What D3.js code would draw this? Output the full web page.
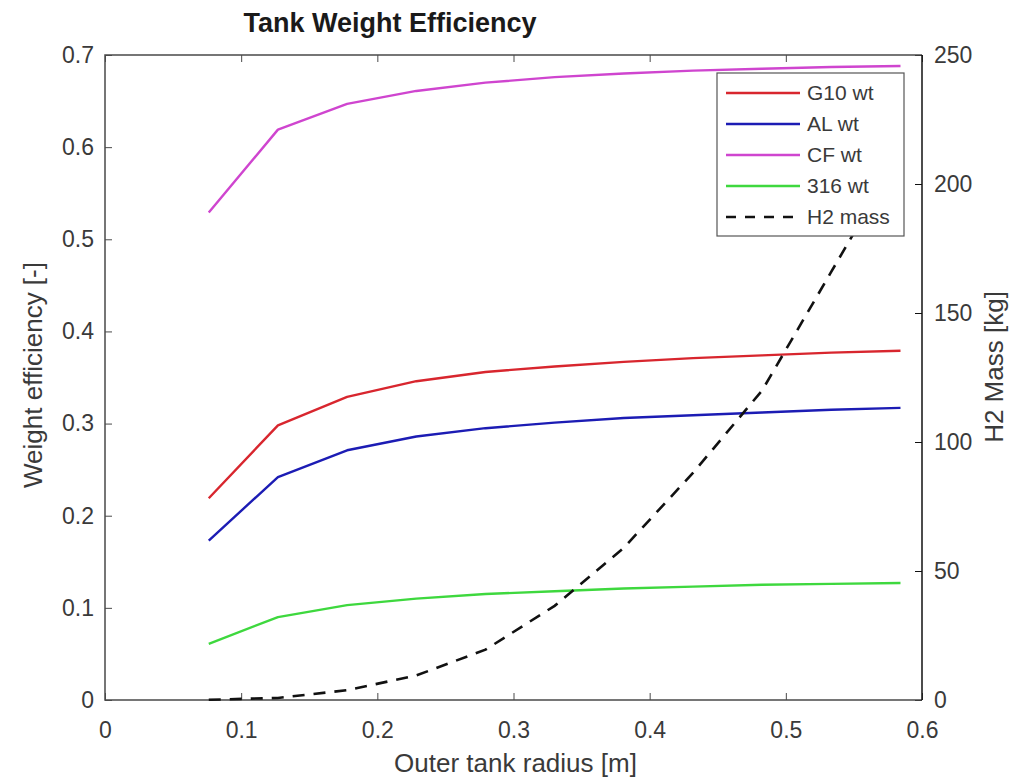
<!DOCTYPE html>
<html>
<head>
<meta charset="utf-8">
<script src="https://cdn.jsdelivr.net/npm/d3@7"></script>
<style>
  html, body { margin: 0; padding: 0; background: #fff; }
  svg { display: block; font-family: "Liberation Sans", Arial, sans-serif; }
</style>
</head>
<body>
<div id="chart"></div>
<script>
// radius points (3 in .. 23 in, in metres)
const radius = [0.0762, 0.127, 0.1778, 0.2286, 0.2794, 0.3302, 0.381, 0.4318, 0.4826, 0.5334, 0.5842];
const g10Wt = [0.219, 0.298, 0.329, 0.346, 0.356, 0.362, 0.367, 0.371, 0.374, 0.377, 0.379];
const alWt = [0.173, 0.242, 0.271, 0.286, 0.295, 0.301, 0.306, 0.309, 0.312, 0.315, 0.317];
const cfWt = [0.529, 0.619, 0.647, 0.661, 0.670, 0.676, 0.680, 0.683, 0.685, 0.687, 0.688];
const ss316Wt = [0.061, 0.090, 0.103, 0.110, 0.115, 0.118, 0.121, 0.123, 0.125, 0.126, 0.127];
const h2Mass = [0.1, 0.8, 3.8, 9.5, 19.5, 36.5, 59, 88, 120, 166, 212];

const xTicks = [0, 0.1, 0.2, 0.3, 0.4, 0.5, 0.6];
const yLeftTicks = [0, 0.1, 0.2, 0.3, 0.4, 0.5, 0.6, 0.7];
const yRightTicks = [0, 50, 100, 150, 200, 250];

const seriesNames = ["G10 wt", "AL wt", "CF wt", "316 wt"];
const seriesColors = ["#d8262e", "#1c1cb4", "#cf45cf", "#3ed83e"];

const width = 1036;
const height = 780;
const marginTop = 55;
const marginRight = 114;
const marginBottom = 80;
const marginLeft = 105;

const axisColor = "#4a4a4a";
const textColor = "#3a3a3a";

const svg = d3.select("#chart")
  .append("svg")
    .attr("width", width)
    .attr("height", height)
    .attr("viewBox", [0, 0, width, height]);

svg.append("rect").attr("width", width).attr("height", height).attr("fill", "#fff");

const x = d3.scaleLinear().domain([0, 0.6]).range([marginLeft, width - marginRight]);
const yL = d3.scaleLinear().domain([0, 0.7]).range([height - marginBottom, marginTop]);
const yR = d3.scaleLinear().domain([0, 250]).range([height - marginBottom, marginTop]);

const fmt = d => d === 0 ? "0" : String(d);

// bottom axis
svg.append("g")
    .attr("transform", `translate(0,${height - marginBottom})`)
    .call(d3.axisBottom(x).tickValues(xTicks).tickFormat(fmt).tickSizeInner(-7).tickSizeOuter(0).tickPadding(22))
    .call(g => g.select(".domain").remove())
    .call(g => g.selectAll(".tick line").attr("stroke", axisColor))
    .call(g => g.selectAll(".tick text").attr("font-size", 23).attr("fill", textColor).attr("font-family", null));

// top ticks (box)
svg.append("g")
    .attr("transform", `translate(0,${marginTop})`)
    .call(d3.axisTop(x).tickValues(xTicks).tickSizeInner(-7).tickSizeOuter(0).tickFormat(""))
    .call(g => g.select(".domain").remove())
    .call(g => g.selectAll(".tick line").attr("stroke", axisColor));

// left axis
svg.append("g")
    .attr("transform", `translate(${marginLeft},0)`)
    .call(d3.axisLeft(yL).tickValues(yLeftTicks).tickFormat(fmt).tickSizeInner(-7).tickSizeOuter(0).tickPadding(11))
    .call(g => g.select(".domain").remove())
    .call(g => g.selectAll(".tick line").attr("stroke", axisColor))
    .call(g => g.selectAll(".tick text").attr("font-size", 23).attr("fill", textColor).attr("font-family", null));

// right axis
svg.append("g")
    .attr("transform", `translate(${width - marginRight},0)`)
    .call(d3.axisRight(yR).tickValues(yRightTicks).tickSizeInner(-7).tickSizeOuter(0).tickPadding(12))
    .call(g => g.select(".domain").remove())
    .call(g => g.selectAll(".tick line").attr("stroke", "#111"))
    .call(g => g.selectAll(".tick text").attr("font-size", 23).attr("fill", textColor).attr("font-family", null));

// frame
svg.append("path")
    .attr("fill", "none")
    .attr("stroke", axisColor)
    .attr("stroke-width", 1.5)
    .attr("d", `M${x(0.6)},${marginTop}H${marginLeft}V${height - marginBottom}H${x(0.6)}`);
svg.append("line")
    .attr("x1", x(0.6)).attr("x2", x(0.6))
    .attr("y1", marginTop).attr("y2", height - marginBottom)
    .attr("stroke", "#111").attr("stroke-width", 1.5);

// efficiency lines
const effSeries = [g10Wt, alWt, cfWt, ss316Wt];
const lineL = d3.line().x((d, i) => x(radius[i])).y(d => yL(d));
effSeries.forEach((vals, k) => {
  svg.append("path")
      .datum(vals)
      .attr("fill", "none")
      .attr("stroke", seriesColors[k])
      .attr("stroke-width", 2.4)
      .attr("stroke-linejoin", "round")
      .attr("d", lineL);
});

// H2 mass (right axis)
const lineR = d3.line().x((d, i) => x(radius[i])).y(d => yR(d));
svg.append("path")
    .datum(h2Mass)
    .attr("fill", "none")
    .attr("stroke", "#111")
    .attr("stroke-width", 2.6)
    .attr("stroke-dasharray", "12,9")
    .attr("d", lineR);

// legend
const legend = svg.append("g").attr("transform", "translate(717,73)");
legend.append("rect")
    .attr("width", 187).attr("height", 163)
    .attr("fill", "#fff").attr("stroke", "#555").attr("stroke-width", 1.2);
const legendItems = seriesNames.map((n, i) => ({ name: n, color: seriesColors[i], dash: null }))
  .concat([{ name: "H2 mass", color: "#111", dash: "10,9" }]);
legendItems.forEach((d, i) => {
  const yy = 20 + i * 31;
  legend.append("line")
      .attr("x1", 9).attr("x2", 83).attr("y1", yy).attr("y2", yy)
      .attr("stroke", d.color).attr("stroke-width", d.dash ? 2.6 : 2.4)
      .attr("stroke-dasharray", d.dash);
  legend.append("text")
      .attr("x", 90).attr("y", yy).attr("dy", "0.35em")
      .attr("font-size", 21).attr("fill", textColor)
      .text(d.name);
});

// title and labels
svg.append("text")
    .attr("x", 390).attr("y", 32)
    .attr("text-anchor", "middle")
    .attr("font-size", 27).attr("font-weight", "bold").attr("fill", "#1a1a1a")
    .text("Tank Weight Efficiency");

svg.append("text")
    .attr("x", (marginLeft + width - marginRight) / 2 + 2).attr("y", 772)
    .attr("text-anchor", "middle")
    .attr("font-size", 26).attr("fill", textColor)
    .text("Outer tank radius [m]");

svg.append("text")
    .attr("transform", `translate(42,375) rotate(-90)`)
    .attr("text-anchor", "middle")
    .attr("font-size", 26).attr("fill", textColor)
    .text("Weight efficiency [-]");

svg.append("text")
    .attr("transform", `translate(1003,367) rotate(-90)`)
    .attr("text-anchor", "middle")
    .attr("font-size", 26).attr("fill", textColor)
    .text("H2 Mass [kg]");
</script>
</body>
</html>
